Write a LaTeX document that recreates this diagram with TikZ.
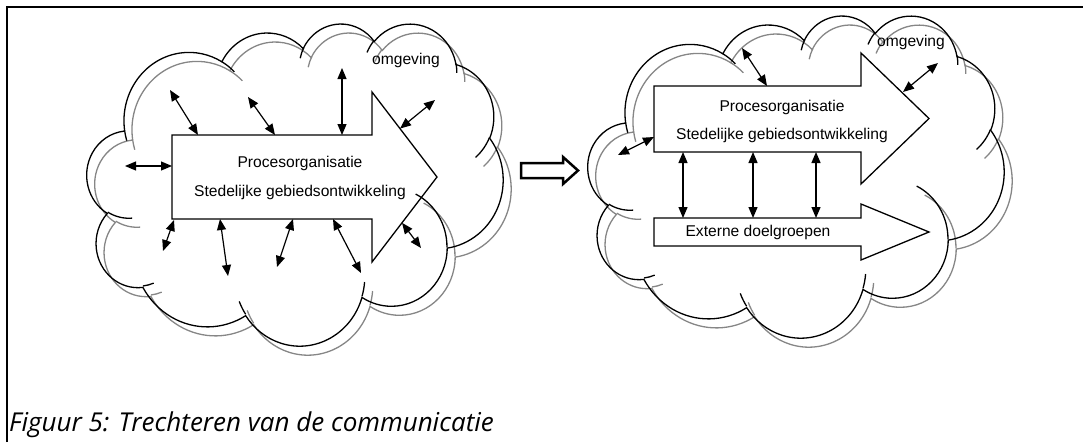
\documentclass[tikz,border=0pt]{standalone}
\usepackage{fontspec}
\setmainfont{Liberation Sans}
\newfontfamily\capfont{Open Sans}
\usetikzlibrary{arrows.meta}

\tikzset{
  declare function={
    cvis(\ang,\rw,\rh)=atan2(\rw*sin(\ang),\rh*cos(\ang));
    cend(\ang,\swp,\rw,\rh)=cvis(\ang+\swp,\rw,\rh)-360*round((cvis(\ang+\swp,\rw,\rh)-cvis(\ang,\rw,\rh)-\swp)/360);
  },
  cloudline/.style={line width=1.3pt},
  blockarrow/.style={draw=black, fill=white, line width=1.3pt, line join=miter},
  dbl/.style={{Triangle[length=11pt,width=9pt]}-{Triangle[length=11pt,width=9pt]}, line width=1.2pt},
  label/.style={font=\fontsize{15.6}{18}\selectfont, inner sep=0pt},
}

% cloud outline: x0, y0, width, height, colour
\newcommand\cloudshape[5]{%
  \begin{scope}[shift={(#1,#2)}]
    \pgfmathsetmacro\csx{#3/43.2}
    \pgfmathsetmacro\csy{#4/43.2}
    \draw[cloudline,#5] ({3.9*\csx},{14.37*\csy})
      foreach \rw/\rh/\st/\sw in {
        6.753/9.190/-190.4875/123.7805,
        5.333/7.267/-144.1024/89.9452,
        4.365/5.945/-145.8079/99.7230,
        4.857/6.595/-130.9861/117.2417,
        5.333/7.273/-78.7089/109.0269,
        6.775/9.220/-46.2673/130.2690,
        5.785/7.867/0.6250/114.0333,
        6.752/9.215/22.4516/115.1726,
        7.720/10.543/66.2426/75.7110,
        4.360/5.918/-274.9421/146.7356,
        4.345/5.945/-246.8285/152.5189}
      { arc[start angle={-cvis(\st,\rw,\rh)}, end angle={-cend(\st,\sw,\rw,\rh)},
            x radius={\rw*\csx pt}, y radius={\rh*\csy pt}] } -- cycle;
    \draw[cloudline,#5]
      foreach \px/\py/\rw/\rh/\st/\sw in {
        4.693/26.177/4.345/5.945/86.7420/26.4295,
        6.928/34.899/4.360/5.918/73.6105/11.4475,
        16.478/39.090/6.752/9.215/137.6242/14.0811,
        28.827/34.751/6.752/9.215/6.4533/15.9984,
        34.129/22.954/5.785/7.867/-70.2924/70.9174,
        41.798/15.354/5.333/7.273/30.3180/27.7515,
        38.324/5.426/4.857/6.595/-13.7443/14.8589,
        29.078/3.952/4.857/6.595/-149.1815/18.1954,
        22.141/4.720/4.365/5.945/-163.4943/17.6864,
        14.000/5.192/6.753/9.190/-66.7070/12.3194,
        4.127/15.789/6.753/9.190/157.6544/11.8582}
      { ({\px*\csx},{\py*\csy})
        arc[start angle={-cvis(\st,\rw,\rh)}, end angle={-cend(\st,\sw,\rw,\rh)},
            x radius={\rw*\csx pt}, y radius={\rh*\csy pt}] };
  \end{scope}}

\begin{document}
\begin{tikzpicture}[x=1pt, y=-1pt]
  \useasboundingbox (0,0) rectangle (1083,442);

  % frame
  \draw[line width=2.6pt, line join=miter] (7,442) -- (7,7) -- (1083,7);

  % ---------- left: open communication ----------
  \coordinate (LA1) at (172,135); \coordinate (LA2) at (372,135);
  \coordinate (LA3) at (372,92);  \coordinate (LAt) at (437,177);
  \coordinate (LA5) at (372,262); \coordinate (LA6) at (372,219);
  \coordinate (LA7) at (172,219);
  \draw[blockarrow] (LA1) -- (LA2) -- (LA3) -- (LAt) -- (LA5) -- (LA6) -- (LA7) -- cycle;
  \node[label] (lp) at (300,163) {Procesorganisatie};
  \node[label] (ls) at (300,192) {Stedelijke gebiedsontwikkeling};

  \cloudshape{95}{32}{416}{322}{gray!95}
  \cloudshape{87}{23}{416}{322}{black}
  \node[label] (lo) at (406,60) {omgeving};

  \coordinate (l1a) at (125,166); \coordinate (l1b) at (172,166);
  \coordinate (l2a) at (170,90);  \coordinate (l2b) at (198,135);
  \coordinate (l3a) at (248,97);  \coordinate (l3b) at (275,135);
  \coordinate (l4a) at (342,68);  \coordinate (l4b) at (342,135);
  \coordinate (l5a) at (400,128.6); \coordinate (l5b) at (435,100);
  \coordinate (l6a) at (174,220); \coordinate (l6b) at (163,251);
  \coordinate (l7a) at (220,219); \coordinate (l7b) at (228,276);
  \coordinate (l8a) at (293,219); \coordinate (l8b) at (277,267);
  \coordinate (l9a) at (333,219); \coordinate (l9b) at (361,273);
  \coordinate (l10a) at (402,222.8); \coordinate (l10b) at (421,248);
  \foreach \i in {1,...,10} \draw[dbl] (l\i a) -- (l\i b);

  % ---------- transition arrow ----------
  \draw[line width=2.5pt, line join=miter, fill=white]
    (521,163) -- (563,163) -- (563,157) -- (578,170.5) -- (563,184) -- (563,178) -- (521,178) -- cycle;

  % ---------- right: channelled communication ----------
  \draw[blockarrow] (654,86) -- (861,86) -- (861,53) -- (929,118.5) -- (861,184) -- (861,152) -- (654,152) -- cycle;
  \draw[blockarrow] (654,218) -- (861,218) -- (861,204) -- (929,232) -- (861,260) -- (861,246) -- (654,246) -- cycle;
  \node[label] (rp) at (782,107) {Procesorganisatie};
  \node[label] (rs) at (782,135) {Stedelijke gebiedsontwikkeling};
  \node[label] (re) at (758,232) {Externe doelgroepen};

  \cloudshape{596}{24}{416}{322}{gray!95}
  \cloudshape{588}{15}{416}{322}{black}
  \node[label] (ro) at (911,42) {omgeving};

  \coordinate (r1a) at (742,48);  \coordinate (r1b) at (767,86);
  \coordinate (r2a) at (903,92);  \coordinate (r2b) at (938,63);
  \coordinate (r3a) at (618,155); \coordinate (r3b) at (654,137);
  \coordinate (r4a) at (683,152); \coordinate (r4b) at (683,218);
  \coordinate (r5a) at (753,152); \coordinate (r5b) at (753,218);
  \coordinate (r6a) at (816,152); \coordinate (r6b) at (816,218);
  \foreach \i in {1,...,6} \draw[dbl] (r\i a) -- (r\i b);

  % caption
  \node[anchor=base west, inner sep=0pt] (cap) at (9,431)
    {\capfont\itshape\fontsize{26}{30}\selectfont Figuur 5: Trechteren van de communicatie};
\end{tikzpicture}
\end{document}
